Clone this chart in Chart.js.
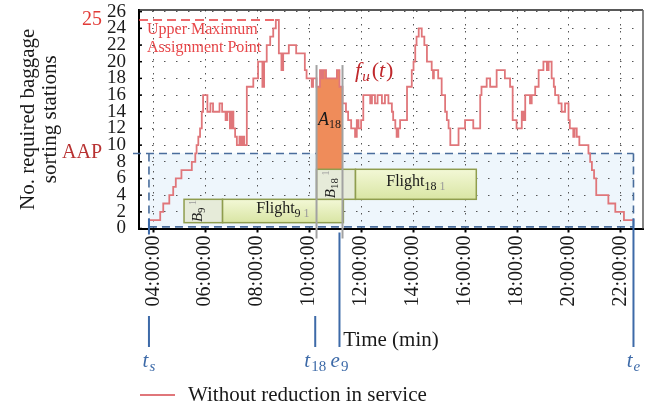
<!DOCTYPE html>
<html>
<head>
<meta charset="utf-8">
<title>Required baggage sorting stations</title>
<script src="https://cdn.jsdelivr.net/npm/chart.js@4.4.1/dist/chart.umd.min.js"></script>
<style>
  html, body { margin: 0; padding: 0; background: #fff; }
  canvas { display: block; }
</style>
</head>
<body>
<canvas id="chart" width="648" height="409"></canvas>
<script>
// f_u(t): required sorting stations, as step changes (minutes after midnight)
const stepMinutes = [
  230, 256, 263, 277, 286, 292, 305, 329, 337, 340,
  344, 348, 352, 355, 365, 372, 378, 393, 399, 407,
  411, 417, 421, 425, 429, 433, 439, 443, 447, 450,
  456, 471, 482, 492, 496, 502, 510, 517, 523, 530,
  536, 540, 553, 570, 590, 594, 606, 609, 617, 625,
  629, 633, 639, 664, 670, 677, 685, 690, 697, 706,
  710, 714, 720, 725, 741, 745, 752, 758, 768, 775,
  783, 791, 794, 799, 802, 806, 810, 826, 837, 841,
  845, 848, 853, 860, 866, 872, 883, 886, 888, 898,
  906, 914, 918, 922, 926, 945, 960, 979, 995, 998,
  1010, 1018, 1033, 1052, 1064, 1070, 1079, 1091, 1095, 1099,
  1110, 1114, 1122, 1130, 1141, 1149, 1153, 1160, 1165, 1168,
  1176, 1183, 1191, 1199, 1202, 1210, 1213, 1218, 1224, 1245,
  1249, 1253, 1258, 1263, 1291, 1307, 1327, 1349
];
const stations = [
  1, 2, 3, 4, 5, 6, 7, 8, 9, 10,
  11, 12, 14, 16, 14, 15, 14, 15, 14, 13,
  14, 12, 14, 12, 11, 10, 11, 10, 11, 10,
  17, 18, 20, 17, 20, 22, 23, 24, 25, 21,
  19, 21, 22, 21, 19, 18, 17, 18, 17, 19,
  18, 19, 18, 19, 17, 15, 14, 13, 12, 11,
  13, 12, 13, 16, 15, 16, 15, 16, 15, 16,
  15, 14, 13, 12, 11, 12, 13, 17, 19, 20,
  22, 23, 24, 23, 22, 20, 19, 18, 19, 18,
  16, 14, 13, 12, 10, 12, 13, 12, 16, 17,
  18, 17, 19, 18, 17, 13, 12, 14, 13, 16,
  15, 16, 17, 19, 20, 19, 20, 18, 17, 16,
  15, 14, 15, 13, 12, 11, 12, 11, 10, 9,
  8, 7, 6, 4, 3, 2, 1, 1
];

// axis ticks
const timeTicks = [240, 360, 480, 600, 720, 840, 960, 1080, 1200, 1320];
const stationTicks = [0, 2, 4, 6, 8, 10, 12, 14, 16, 18, 20, 22, 24, 26];

// reference levels
const upperMaxLevel = 25;
const upperMaxUntil = 525;
const aapLevel = 9;
const windowFloor = 0.2;

// service window and event times on the time axis
const markerMinutes = [230, 614, 670, 1349];
const markerSymbols = ['t', 't', 'e', 't'];
const markerIndices = ['s', '18', '9', 'e'];

// area A18 between the start of flight 18 and the end of flight 9
const a18Start = 617;
const a18End = 677;
const a18Floor = 7.1;

// flight blocks: buffer B, then the flight itself
const flightIds = ['9', '18'];
const bufferStart = [311, 617];
const flightStart = [400, 707];
const flightEnd = [679, 986];
const flightLow = [0.7, 3.5];
const flightHigh = [3.5, 7.1];

const SERIF = "'Liberation Serif', 'DejaVu Serif', serif";
const LINE_RED = '#e0767a';
const MARK_BLUE = '#3d6aa8';
const INK = '#1a1a1a';

const linePoints = stepMinutes.map((m, i) => ({ x: m, y: stations[i] }));
const a18Points = linePoints.filter(p => p.x >= a18Start && p.x < a18End);
a18Points.push({ x: a18End, y: a18Points[a18Points.length - 1].y });

function richText(ctx, parts, x, y, align) {
  let total = 0;
  for (const p of parts) { ctx.font = p.font; p.w = ctx.measureText(p.text).width; total += p.w + (p.gap || 0); }
  let cx = align === 'center' ? x - total / 2 : x;
  ctx.textAlign = 'left';
  ctx.textBaseline = 'alphabetic';
  for (const p of parts) {
    ctx.font = p.font;
    ctx.fillStyle = p.color;
    ctx.fillText(p.text, cx, y + (p.dy || 0));
    cx += p.w + (p.gap || 0);
  }
}

function dashedLine(ctx, x0, y0, x1, y1, color, dash) {
  ctx.save();
  ctx.strokeStyle = color;
  ctx.lineWidth = 1.6;
  ctx.setLineDash(dash);
  ctx.beginPath();
  ctx.moveTo(x0, y0);
  ctx.lineTo(x1, y1);
  ctx.stroke();
  ctx.restore();
}

const decor = {
  id: 'decor',
  beforeDraw(chart) {
    const { ctx, scales: { x, y } } = chart;
    ctx.save();
    ctx.fillStyle = '#fff';
    ctx.fillRect(0, 0, chart.width, chart.height);
    // service window below the AAP level
    const x0 = x.getPixelForValue(markerMinutes[0]);
    const x1 = x.getPixelForValue(markerMinutes[3]);
    const yTop = y.getPixelForValue(aapLevel);
    const yBot = y.getPixelForValue(windowFloor);
    ctx.fillStyle = '#eef6fc';
    ctx.fillRect(x0, yTop, x1 - x0, yBot - yTop);
    ctx.restore();
  },
  beforeDatasetsDraw(chart) {
    const { ctx, chartArea: a, scales: { x, y } } = chart;
    const x0 = x.getPixelForValue(markerMinutes[0]);
    const x1 = x.getPixelForValue(markerMinutes[3]);
    const yTop = y.getPixelForValue(aapLevel);
    const yBot = y.getPixelForValue(windowFloor);
    const blue = '#4a6d9c';
    dashedLine(ctx, a.left - 6, yTop, x1, yTop, blue, [8, 5]);
    dashedLine(ctx, x0, yTop, x0, yBot, blue, [8, 5]);
    dashedLine(ctx, x1, yTop, x1, yBot, blue, [8, 5]);
    dashedLine(ctx, x0, yBot, x1, yBot, blue, [8, 5]);
    // upper maximum assignment point
    const yMax = y.getPixelForValue(upperMaxLevel);
    dashedLine(ctx, a.left, yMax, x.getPixelForValue(upperMaxUntil), yMax, '#e83a3c', [9, 5]);
    ctx.save();
    ctx.fillStyle = '#e8474a';
    ctx.font = `16px ${SERIF}`;
    ctx.textAlign = 'left';
    ctx.textBaseline = 'alphabetic';
    ctx.fillText('Upper Maximum', a.left + 8, 34);
    ctx.fillText('Assignment Point', a.left + 8, 51.5);
    ctx.restore();
  },
  afterDatasetsDraw(chart) {
    const { ctx, scales: { x, y } } = chart;
    ctx.save();
    for (let i = 0; i < flightIds.length; i++) {
      const bx0 = x.getPixelForValue(bufferStart[i]);
      const fx0 = x.getPixelForValue(flightStart[i]);
      const fx1 = x.getPixelForValue(flightEnd[i]);
      const yt = y.getPixelForValue(flightHigh[i]);
      const yb = y.getPixelForValue(flightLow[i]);
      // buffer block
      ctx.fillStyle = '#e6ebd9';
      ctx.fillRect(bx0, yt, fx0 - bx0, yb - yt);
      ctx.strokeStyle = '#8f9d4e';
      ctx.lineWidth = 1.5;
      ctx.strokeRect(bx0, yt, fx0 - bx0, yb - yt);
      // flight block
      const g = ctx.createLinearGradient(0, yt, 0, yb);
      g.addColorStop(0, '#f3f8d6');
      g.addColorStop(1, '#d9e5a4');
      ctx.fillStyle = g;
      ctx.fillRect(fx0, yt, fx1 - fx0, yb - yt);
      ctx.strokeStyle = '#8f9d4e';
      ctx.strokeRect(fx0, yt, fx1 - fx0, yb - yt);
      const cy = (yt + yb) / 2;
      richText(ctx, [
        { text: 'Flight', font: `16px ${SERIF}`, color: INK },
        { text: flightIds[i], font: `12px ${SERIF}`, color: INK, dy: 4 },
        { text: ' 1', font: `12px ${SERIF}`, color: '#9a9a9a', dy: 4 }
      ], (fx0 + fx1) / 2, cy + 2, 'center');
      // rotated buffer label
      ctx.save();
      ctx.translate((bx0 + fx0) / 2, cy);
      ctx.rotate(-Math.PI / 2);
      richText(ctx, [
        { text: 'B', font: `italic 15px ${SERIF}`, color: INK },
        { text: flightIds[i], font: `11px ${SERIF}`, color: INK, dy: 3 },
        { text: ' 1', font: `10px ${SERIF}`, color: '#9a9a9a', dy: -6 }
      ], 0, -1, 'center');
      ctx.restore();
    }
    // A18 label
    const ax = (x.getPixelForValue(a18Start) + x.getPixelForValue(a18End)) / 2;
    richText(ctx, [
      { text: 'A', font: `italic 18px ${SERIF}`, color: INK },
      { text: '18', font: `12px ${SERIF}`, color: INK, dy: 3 }
    ], ax, y.getPixelForValue(12.4), 'center');
    // f_u(t) label
    const red = '#c0282c';
    richText(ctx, [
      { text: 'f', font: `italic 22px ${SERIF}`, color: red, gap: 1 },
      { text: 'u', font: `italic 15px ${SERIF}`, color: red, dy: 4, gap: 2 },
      { text: '(', font: `22px ${SERIF}`, color: red },
      { text: 't', font: `italic 22px ${SERIF}`, color: red, gap: 1 },
      { text: ')', font: `22px ${SERIF}`, color: red }
    ], x.getPixelForValue(706), y.getPixelForValue(18.2), 'left');
    ctx.restore();
  },
  afterDraw(chart) {
    const { ctx, chartArea: a, scales: { x, y } } = chart;
    ctx.save();
    // top and right frame
    ctx.lineWidth = 1.6;
    ctx.strokeStyle = '#222';
    ctx.beginPath(); ctx.moveTo(a.left, a.top); ctx.lineTo(a.right, a.top); ctx.stroke();
    ctx.strokeStyle = '#666';
    ctx.beginPath(); ctx.moveTo(a.right, a.top); ctx.lineTo(a.right, a.bottom); ctx.stroke();
    // inner tick marks on the station axis
    ctx.strokeStyle = '#000';
    ctx.lineWidth = 1.5;
    for (const v of stationTicks) {
      const py = y.getPixelForValue(v);
      ctx.beginPath(); ctx.moveTo(a.left, py); ctx.lineTo(a.left + 3, py); ctx.stroke();
    }
    // bounds of A18
    ctx.strokeStyle = '#a2a2a2';
    ctx.lineWidth = 2;
    for (const m of [a18Start, a18End]) {
      const px = x.getPixelForValue(m);
      ctx.beginPath(); ctx.moveTo(px, y.getPixelForValue(19.6)); ctx.lineTo(px, a.bottom + 10); ctx.stroke();
    }
    // reference level names beside the station axis
    ctx.textAlign = 'right';
    ctx.textBaseline = 'middle';
    ctx.font = `20px ${SERIF}`;
    ctx.fillStyle = '#e23a36';
    ctx.fillText(String(upperMaxLevel), 102, y.getPixelForValue(upperMaxLevel));
    ctx.fillStyle = '#b83232';
    ctx.fillText('AAP', 102, y.getPixelForValue(aapLevel) - 1);
    // event markers below the time axis
    const tickPx = timeTicks.map(v => x.getPixelForValue(v));
    ctx.strokeStyle = MARK_BLUE;
    ctx.lineWidth = 2;
    markerMinutes.forEach((m, i) => {
      const px = x.getPixelForValue(m);
      const edge = i === 0 || i === markerMinutes.length - 1;
      const top = edge ? y.getPixelForValue(1.2) : a.bottom + 4;
      const blocked = tickPx.some(t => Math.abs(t - px) < 9);
      ctx.beginPath();
      if (blocked) {
        if (edge) { ctx.moveTo(px, top); ctx.lineTo(px, a.bottom + 6); }
        ctx.moveTo(px, 316); ctx.lineTo(px, 347);
      } else {
        ctx.moveTo(px, top); ctx.lineTo(px, 347);
      }
      ctx.stroke();
      const idx = markerIndices[i];
      const idxFont = /\d/.test(idx) ? `15px ${SERIF}` : `italic 15px ${SERIF}`;
      richText(ctx, [
        { text: markerSymbols[i], font: `italic 21px ${SERIF}`, color: MARK_BLUE, gap: 1 },
        { text: idx, font: idxFont, color: MARK_BLUE, dy: 4 }
      ], px, 367, 'center');
    });
    // legend
    ctx.strokeStyle = LINE_RED;
    ctx.lineWidth = 2;
    ctx.beginPath(); ctx.moveTo(a.left + 1, 395); ctx.lineTo(a.left + 36, 395); ctx.stroke();
    ctx.fillStyle = INK;
    ctx.font = `21px ${SERIF}`;
    ctx.textAlign = 'left';
    ctx.textBaseline = 'alphabetic';
    ctx.fillText(chart.data.datasets[0].label, a.left + 49, 401);
    ctx.restore();
  }
};

new Chart(document.getElementById('chart'), {
  type: 'line',
  data: {
    datasets: [
      {
        label: 'Without reduction in service',
        data: linePoints,
        stepped: true,
        borderColor: LINE_RED,
        borderWidth: 1.8,
        pointRadius: 0,
        fill: false
      },
      {
        label: 'A18',
        data: a18Points,
        stepped: true,
        borderWidth: 0,
        borderColor: 'rgba(0,0,0,0)',
        backgroundColor: '#ef8c5a',
        pointRadius: 0,
        fill: { value: a18Floor }
      }
    ]
  },
  options: {
    responsive: false,
    animation: false,
    events: [],
    layout: { padding: { left: 0, right: 5, top: 10, bottom: 50.5 } },
    plugins: { legend: { display: false }, tooltip: { enabled: false } },
    scales: {
      x: {
        type: 'linear',
        min: 207,
        max: 1371,
        afterBuildTicks: s => { s.ticks = timeTicks.map(v => ({ value: v })); },
        afterFit: s => { s.height = 130; s.paddingLeft = 0; s.paddingRight = 0; },
        ticks: {
          autoSkip: false,
          minRotation: 90,
          maxRotation: 90,
          padding: 3,
          color: INK,
          font: { family: SERIF, size: 20 },
          callback: v => String(v / 60).padStart(2, '0') + ':00:00'
        },
        grid: { color: '#555', lineWidth: 1, drawTicks: true, tickLength: 4, tickColor: '#000', tickWidth: 2 },
        border: { color: '#000', width: 2, dash: [1.5, 5.5] },
        title: {
          display: true,
          text: 'Time (min)',
          color: INK,
          font: { family: SERIF, size: 21, lineHeight: '25px' },
          padding: { top: 0, bottom: 6 }
        }
      },
      y: {
        min: 0,
        max: 26.2,
        afterBuildTicks: s => { s.ticks = stationTicks.map(v => ({ value: v })); },
        afterFit: s => { s.width = 139; s.paddingTop = 0; s.paddingBottom = 0; },
        ticks: {
          autoSkip: false,
          padding: 13,
          color: INK,
          font: { family: SERIF, size: 19 },
          callback: v => String(v)
        },
        grid: { color: '#555', lineWidth: 1, drawTicks: false },
        border: { color: '#000', width: 2, dash: [1.5, 10.5] },
        title: {
          display: true,
          text: ['No. required baggage', 'sorting stations'],
          color: INK,
          font: { family: SERIF, size: 21, lineHeight: '22px' },
          padding: { top: 17, bottom: 0 }
        }
      }
    }
  },
  plugins: [decor]
});
</script>
</body>
</html>
